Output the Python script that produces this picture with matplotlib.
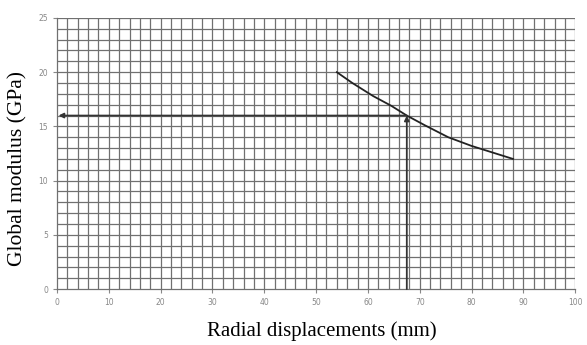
import matplotlib.pyplot as plt
import numpy as np

# curve
disp = [54, 57, 61, 64.5, 67.5, 71, 75.5, 80, 84, 88]
modulus = [20, 19.0, 17.8, 16.9, 16.0, 15.1, 14.0, 13.2, 12.6, 12.0]

# read-off point
x_read = 67.5
y_read = 16

xticks = [0, 10, 20, 30, 40, 50, 60, 70, 80, 90, 100]
yticks = [0, 5, 10, 15, 20, 25]

fig = plt.figure(figsize=(5.87, 3.45), dpi=100)
ax = fig.add_axes([0.097, 0.162, 0.883, 0.786])

ax.set_xlim(0, 100)
ax.set_ylim(0, 25)

# graph-paper grid
for gx in np.arange(2, 101, 2):
    ax.axvline(gx, color='#707070', lw=0.9, zorder=1)
for gy in np.arange(1, 26, 1):
    ax.axhline(gy, color='#707070', lw=0.9, zorder=1)

ax.plot(disp, modulus, color='#222222', lw=1.3, zorder=3)

# arrows: up from x-axis to curve, then left to y-axis
ax.annotate('', xy=(x_read, y_read), xytext=(x_read, 0),
            arrowprops=dict(arrowstyle='-|>', color='#333333', lw=1.3,
                            mutation_scale=7, shrinkA=0, shrinkB=0), zorder=4)
ax.annotate('', xy=(0.3, y_read), xytext=(x_read, y_read),
            arrowprops=dict(arrowstyle='-|>', color='#333333', lw=1.3,
                            mutation_scale=7, shrinkA=0, shrinkB=0), zorder=4)

ax.set_xticks(xticks)
ax.set_yticks(yticks)
ax.tick_params(labelsize=5.5, labelcolor='#888888', color='#888888',
               length=3, width=0.8)
for s in ['top', 'right']:
    ax.spines[s].set_visible(False)
for s in ['left', 'bottom']:
    ax.spines[s].set_color('#707070')
    ax.spines[s].set_linewidth(0.9)

# axis titles placed in figure coords
fig.text(0.549, 0.04, 'Radial displacements (mm)', family='Liberation Serif',
         fontsize=15, ha='center', va='center')
fig.text(0.031, 0.513, 'Global modulus (GPa)', family='Liberation Serif',
         fontsize=15.5, ha='center', va='center', rotation=90)

fig.savefig('out.png', dpi=100)
